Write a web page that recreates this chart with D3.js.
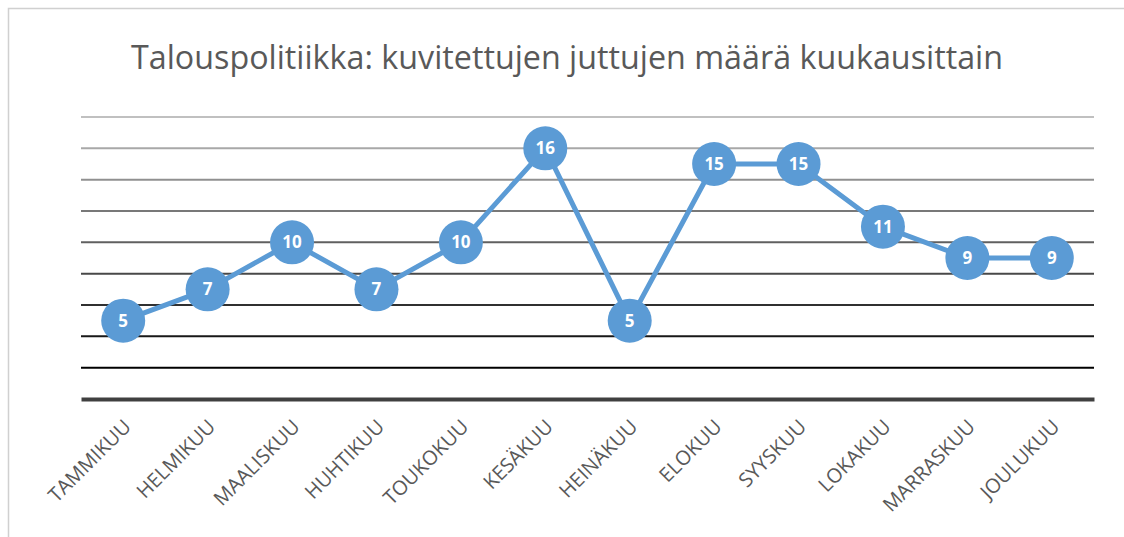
<!DOCTYPE html>
<html lang="fi">
<head>
  <meta charset="UTF-8">
  <title>Talouspolitiikka</title>
  <script src="https://cdn.jsdelivr.net/npm/d3@7"></script>
  <style>
    body { margin: 0; background: #fff; }
    svg { display: block; font-family: 'Open Sans', 'Noto Sans', sans-serif; }
  </style>
</head>
<body>
<div id="grafica"></div>
<script>
// data
const kuukaudet = ['TAMMIKUU', 'HELMIKUU', 'MAALISKUU', 'HUHTIKUU', 'TOUKOKUU', 'KESÄKUU',
                   'HEINÄKUU', 'ELOKUU', 'SYYSKUU', 'LOKAKUU', 'MARRASKUU', 'JOULUKUU']
const jutut = [5, 7, 10, 7, 10, 16, 5, 15, 15, 11, 9, 9]
const yTicks = [2, 4, 6, 8, 10, 12, 14, 16, 18]

const ancho_total = 1124
const alto_total = 537
const margin = {left: 81, right: 30, top: 117, bottom: 138}
const ancho = ancho_total - margin.left - margin.right
const alto = alto_total - margin.top - margin.bottom

// gridlines go from light grey at the top to black near the axis
const gridColor = d3.scaleLinear().domain([2, 18]).range(['#000000', '#c0c0c0'])

const svg = d3.select('#grafica')
  .append('svg')
  .attr('width', ancho_total)
  .attr('height', alto_total)

// frame
svg.append('path')
  .attr('d', `M8.5,${alto_total} V8.5 H${ancho_total}`)
  .attr('fill', 'none')
  .attr('stroke', '#d0d0d0')
  .attr('stroke-width', 1.5)

svg.append('text')
  .attr('x', 567)
  .attr('y', 69)
  .attr('text-anchor', 'middle')
  .attr('font-size', 32)
  .attr('fill', '#595959')
  .attr('textLength', 872)
  .attr('lengthAdjust', 'spacingAndGlyphs')
  .text('Talouspolitiikka: kuvitettujen juttujen määrä kuukausittain')

const g = svg.append('g')
  .attr('transform', `translate(${margin.left},${margin.top})`)

const x = d3.scaleBand()
  .domain(kuukaudet)
  .range([0, ancho])

const y = d3.scaleLinear()
  .domain([0, 18])
  .range([alto, 0])

// grid
g.selectAll('line.grid')
  .data(yTicks)
  .enter()
  .append('line')
    .attr('class', 'grid')
    .attr('x1', 0)
    .attr('x2', ancho)
    .attr('y1', d => y(d))
    .attr('y2', d => y(d))
    .attr('stroke', d => gridColor(d))
    .attr('stroke-width', 2)

// x axis
const xAxisCall = d3.axisBottom(x).tickSize(0).tickPadding(0)
const xAxis = g.append('g')
  .attr('transform', `translate(0, ${alto})`)
  .call(xAxisCall)
  .attr('font-family', null)
xAxis.select('.domain')
  .attr('stroke', '#404040')
  .attr('stroke-width', 4)
xAxis.selectAll('text')
  .style('font-size', '20px')
  .attr('fill', '#595959')
  .attr('text-anchor', 'end')
  .attr('dy', 0)
  .attr('y', 0)
  .attr('transform', 'translate(9,29) rotate(-45)')

// line
const cx = d => x(d.k) + x.bandwidth() / 2
const puntos = kuukaudet.map((k, i) => ({k: k, v: jutut[i]}))

g.append('path')
  .datum(puntos)
  .attr('fill', 'none')
  .attr('stroke', '#5b9bd5')
  .attr('stroke-width', 5)
  .attr('stroke-linejoin', 'round')
  .attr('d', d3.line().x(cx).y(d => y(d.v)))

g.selectAll('circle')
  .data(puntos)
  .enter()
  .append('circle')
    .attr('cx', cx)
    .attr('cy', d => y(d.v))
    .attr('r', 22)
    .attr('fill', '#5b9bd5')

g.selectAll('text.label')
  .data(puntos)
  .enter()
  .append('text')
    .attr('class', 'label')
    .attr('x', cx)
    .attr('y', d => y(d.v))
    .attr('dy', '0.36em')
    .attr('text-anchor', 'middle')
    .attr('font-size', 17)
    .attr('font-weight', 'bold')
    .attr('fill', '#fff')
    .text(d => d.v)
</script>
</body>
</html>
